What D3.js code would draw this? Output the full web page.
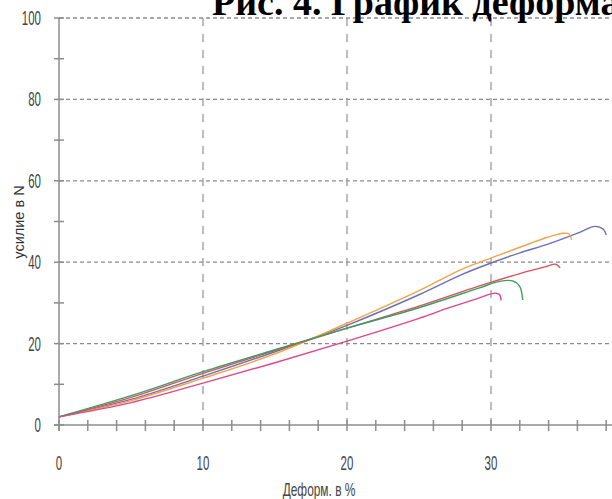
<!DOCTYPE html>
<html>
<head>
<meta charset="utf-8">
<script src="https://cdn.jsdelivr.net/npm/d3@7"></script>
<style>
  html, body { margin: 0; padding: 0; background: #fff; overflow: hidden; }
  svg { display: block; }
  .tick-label { font-family: "Liberation Sans", Arial, sans-serif; font-size: 14px; fill: #444; }
  .axis-title { font-family: "Liberation Sans", Arial, sans-serif; font-size: 14.5px; fill: #333; }
  .title { font-family: "Liberation Serif", "Times New Roman", serif; font-weight: bold; font-size: 38px; fill: #000; }
</style>
</head>
<body>
<script>
// x ticks / y ticks
const x_major = [0, 10, 20, 30];
const x_minor = d3.range(0, 40, 2);
const y_major = [0, 20, 40, 60, 80, 100];
const y_minor = d3.range(0, 101, 10);

// series: [deformation %, force N]
const blue = [[0, 2], [5, 6.3], [10, 12], [15, 18], [20, 24.5], [25, 32], [28, 37], [30, 39.8], [32, 42.3], [34, 44.5], [36.2, 47.4], [37.2, 48.8], [37.8, 48.1], [38.0, 46.7]];
const orange = [[0, 2], [5, 6], [10, 11.5], [15, 17.5], [20, 25], [25, 33], [28, 38.3], [30, 41], [32.7, 44.6], [34, 46.2], [35, 47.1], [35.4, 47.0], [35.6, 45.5]];
const red = [[0, 2], [5, 6.8], [10, 12.7], [15, 18.3], [20, 23.8], [25, 29.2], [29.2, 34.2], [32, 37.2], [33.8, 38.9], [34.5, 39.5], [34.8, 38.6]];
const green = [[0, 2], [5, 7.2], [10, 13.1], [15, 18.5], [20, 23.8], [25, 28.8], [29.2, 33.7], [30.6, 35.3], [31.5, 35.4], [32.0, 34], [32.2, 30.7]];
const pink = [[0, 2], [5, 5.5], [10, 10.3], [15, 15.3], [20, 20.6], [25, 26.2], [27, 28.7], [29, 31], [30.3, 32.4], [30.6, 32], [30.7, 30.6]];

const series = [
  { key: 'blue', color: '#6a6fb8', values: blue },
  { key: 'orange', color: '#f2a444', values: orange },
  { key: 'red', color: '#d9505a', values: red },
  { key: 'green', color: '#3b9d60', values: green },
  { key: 'pink', color: '#e0478a', values: pink },
];

const width = 612, height = 499;
const svg = d3.select('body').append('svg')
  .attr('width', width)
  .attr('height', height);

const x = d3.scaleLinear().domain([0, 40]).range([59, 635]);
const y = d3.scaleLinear().domain([0, 100]).range([425, 18]);

// gridlines
svg.append('g').attr('class', 'hgrid')
  .selectAll('line').data(y_major.filter(d => d > 0)).join('line')
    .attr('x1', x(0)).attr('x2', width)
    .attr('y1', d => y(d)).attr('y2', d => y(d))
    .attr('stroke', '#8a8a8a').attr('stroke-width', 1.3)
    .attr('stroke-dasharray', '4,3');
svg.append('g').attr('class', 'vgrid')
  .selectAll('line').data(x_major.filter(d => d > 0)).join('line')
    .attr('x1', d => x(d)).attr('x2', d => x(d))
    .attr('y1', y(100)).attr('y2', y(0))
    .attr('stroke', '#9a9a9a').attr('stroke-width', 1.3)
    .attr('stroke-dasharray', '8,8');

// axes
const axes = svg.append('g').attr('class', 'axes').attr('stroke', '#8c8c8c').attr('stroke-width', 1.5);
axes.append('line')
  .attr('x1', x(0) - 5).attr('x2', width)
  .attr('y1', y(0)).attr('y2', y(0));
axes.append('line')
  .attr('x1', x(0)).attr('x2', x(0))
  .attr('y1', y(100)).attr('y2', y(0) + 6);
axes.selectAll('.xt').data(x_minor).join('line').attr('class', 'xt')
  .attr('x1', d => x(d)).attr('x2', d => x(d))
  .attr('y1', y(0) - 5).attr('y2', y(0) + 6);
axes.selectAll('.yt').data(y_minor).join('line').attr('class', 'yt')
  .attr('x1', x(0) - 5).attr('x2', x(0) + 5)
  .attr('y1', d => y(d)).attr('y2', d => y(d));

// tick labels (narrow, stretched like the source)
svg.append('g').selectAll('text').data(x_major).join('text')
  .attr('class', 'tick-label')
  .attr('text-anchor', 'middle')
  .attr('transform', d => `translate(${[x(d), 470]}) scale(0.82,1.45)`)
  .text(d => d);
svg.append('g').selectAll('text').data(y_major).join('text')
  .attr('class', 'tick-label')
  .attr('text-anchor', 'end')
  .attr('transform', d => `translate(${[41, y(d) + 7]}) scale(0.82,1.45)`)
  .text(d => d);

// curves
const line = d3.line()
  .x(d => x(d[0]))
  .y(d => y(d[1]))
  .curve(d3.curveCatmullRom.alpha(0.5));
svg.append('g').attr('class', 'curves')
  .selectAll('path').data(series).join('path')
    .attr('fill', 'none')
    .attr('stroke', d => d.color)
    .attr('stroke-width', 1.4)
    .attr('stroke-linejoin', 'round')
    .attr('d', d => line(d.values));

// axis titles
svg.append('text').attr('class', 'tick-label')
  .attr('text-anchor', 'middle')
  .attr('transform', `translate(${[319, 496]}) scale(0.85,1.35)`)
  .text('Деформ. в %');
svg.append('text').attr('class', 'axis-title')
  .attr('text-anchor', 'middle')
  .attr('transform', `translate(${[24, 222]}) rotate(-90)`)
  .text('усилие в N');

// title, cut off by the page edges
svg.append('text').attr('class', 'title')
  .attr('x', 212).attr('y', 15)
  .text('Рис. 4. График деформации');
</script>
</body>
</html>
